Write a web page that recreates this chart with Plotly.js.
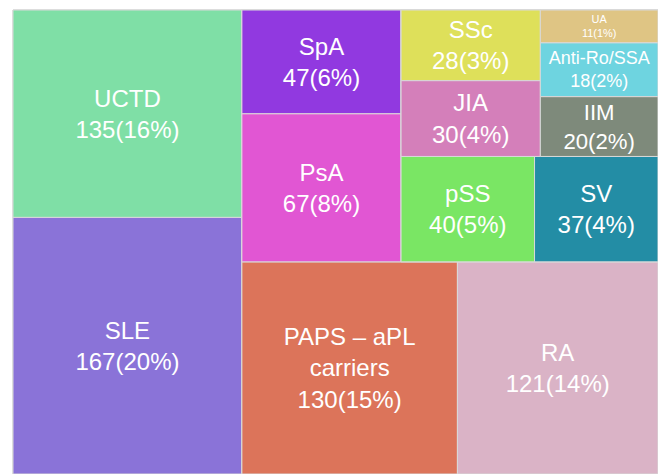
<!DOCTYPE html>
<html>
<head>
<meta charset="utf-8">
<script src="https://cdn.plot.ly/plotly-3.0.1.min.js"></script>
<style>html,body{margin:0;padding:0;background:#fff;}#chart{width:658px;height:474px;}</style>
</head>
<body>
<div id="chart"></div>
<script>
// Categories, counts and percentage labels
const labels = ["UCTD","SLE","SpA","PsA","PAPS – aPL<br>carriers","RA","SSc","JIA","UA","Anti-Ro/SSA","IIM","pSS","SV"];
const values = [135,167,47,67,130,121,28,30,11,18,20,40,37];
const pctLabels = ["16%","20%","6%","8%","15%","14%","3%","4%","1%","2%","2%","5%","4%"];
// Tile grouping (mirrors the squarified arrangement of the original)
const leafGroup = ["g1","g1","g4","g4","g3","g3","g7","g7","g8","g8","g8","g6","g6"];
const groupIds = ["root","g1","g2","g5","g3","g4","g9","g10","g6","g7","g8"];
const groupParents = ["","root","root","g2","g2","g5","g5","g9","g9","g10","g10"];
// Styles
const colors = ["#7FDFA6","#8A73D8","#9139E0","#E156D3","#DC745A","#DAB3C6","#DEE05A","#D47FBA","#DFC584","#6ED4E0","#7E8A7B","#7AE664","#238DA5"];
const fontSizes = [24,24,24,24,24,24,24,24,13,18,24,24,24];

const ids = groupIds.concat(labels.map((l, i) => "leaf" + i));
const allLabels = groupIds.map(() => "").concat(labels);
const parents = groupParents.concat(leafGroup);
const allValues = groupIds.map(() => 0).concat(values);
const custom = groupIds.map(() => "").concat(pctLabels);
const allColors = groupIds.map(() => "#ffffff").concat(colors);
const allSizes = groupIds.map(() => 10).concat(fontSizes);
const templates = groupIds.map(() => "").concat(labels.map(() => '%{label}<br>%{value}(%{customdata})'));

Plotly.newPlot('chart', [{
  type: 'treemap',
  ids: ids,
  labels: allLabels,
  parents: parents,
  values: allValues,
  customdata: custom,
  sort: false,
  branchvalues: 'remainder',
  texttemplate: templates,
  textposition: 'middle center',
  textfont: {family: 'Liberation Sans, Arial, sans-serif', color: '#ffffff', size: allSizes},
  hoverinfo: 'label+value',
  marker: {colors: allColors, line: {color: '#d9d9d9', width: 1}, pad: {t: 0, l: 0, r: 0, b: 0}},
  tiling: {packing: 'slice-dice', pad: 0},
  pathbar: {visible: false}
}], {
  width: 658, height: 474,
  margin: {l: 13, r: 0, t: 10, b: 0},
  paper_bgcolor: '#ffffff',
  showlegend: false
}, {displayModeBar: false, staticPlot: true});
</script>
</body>
</html>
